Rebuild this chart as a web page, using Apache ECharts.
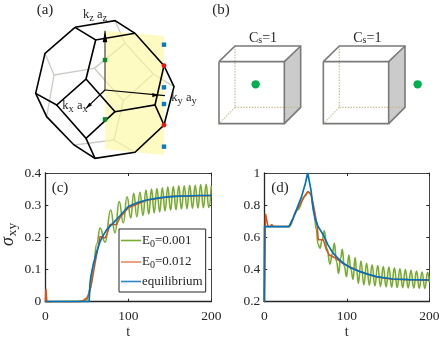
<!DOCTYPE html>
<html><head><meta charset="utf-8">
<style>html,body{margin:0;padding:0;background:#fff}#c{width:443px;height:341px}</style>
<script src="https://cdn.jsdelivr.net/npm/echarts@6/dist/echarts.min.js"></script>
</head><body><div id="c"></div>
<script>
const xTicksInterval = 100;
const seriesNames = ['E0=0.001', 'E0=0.012', 'equilibrium'];

// panel (c)
const cGreenT = [0,45,50,54,58,62,66,72,78.8,84,89,94,98.5,103,106.5,110.3,114,117.7,121.3,124.6,128,131.2,134.5,137.8,141,144.3,147.6,150.9,154.2,157.5,160.8,164,167.4,170.7,174,177.3,180.6,183.9,187.2,190.5,193.8,196.9,200];
const cGreenY = [0,0.001,0.006,0.04,0.11,0.18,0.229,0.185,0.285,0.214,0.311,0.245,0.326,0.26,0.337,0.264,0.34,0.268,0.347,0.272,0.35,0.276,0.352,0.279,0.354,0.282,0.356,0.284,0.358,0.286,0.36,0.288,0.36,0.289,0.362,0.29,0.362,0.291,0.364,0.292,0.365,0.293,0.36];
const cOrangeT = [0,0.8,2,5,8,40,46,50,53,56,60,64,66,72,75,78,86,90,100,122,150,200];
const cOrangeY = [0,0.04,-0.003,-0.003,0,0,0.004,0.012,0.025,0.06,0.12,0.175,0.203,0.198,0.215,0.24,0.24,0.262,0.292,0.315,0.327,0.33];
const cBlueT = [0,52.8,53.8,55,58,62,66,70,74,82,90,100,110,122,135,145,160,173,185,200];
const cBlueY = [0,0,0.055,0.08,0.118,0.155,0.187,0.207,0.224,0.245,0.267,0.296,0.307,0.316,0.322,0.325,0.328,0.329,0.33,0.33];

// panel (d)
const dGreenT = [0,0.3,3,30,40,50,53,56,60,63,65,67.5,70,72.7,76,79.6,82.5,84.9,87.5,90,92.5,94.5,97,99.7,102.4,105,107.6,110,112,114,117.2,120.6,124,127.3,130.7,134,137.5,140.8,144.2,147.6,151,154.3,157.7,161,164.4,167.7,171,174.4,177.8,181.1,184.5,187.8,191.2,194.6,198,200];
const dGreenY = [0.2,0.667,0.667,0.667,0.77,0.86,0.885,0.87,0.77,0.65,0.56,0.532,0.58,0.641,0.53,0.434,0.5,0.563,0.45,0.376,0.47,0.526,0.42,0.355,0.49,0.4,0.338,0.475,0.39,0.314,0.452,0.304,0.439,0.302,0.43,0.298,0.425,0.295,0.418,0.292,0.415,0.29,0.41,0.288,0.405,0.287,0.4,0.286,0.395,0.285,0.39,0.284,0.385,0.283,0.383,0.32];
const dOrangeT = [0,0.8,1.5,3,4.5,7,9,11,30,40,50,53,56.6,60,64,65.5,71.6,75,78.8,85,96,116,136,156,200];
const dOrangeY = [0.2,0.5,0.745,0.74,0.67,0.665,0.68,0.667,0.667,0.775,0.865,0.885,0.867,0.79,0.677,0.585,0.585,0.525,0.49,0.475,0.435,0.388,0.354,0.34,0.333];
const dBlueT = [0,0.3,30,35,40,45,50,52.6,56.6,59.4,61.4,65,71.5,77,83.6,90,95.8,105,116,126,136,156,175,200];
const dBlueY = [0.2,0.667,0.667,0.72,0.785,0.85,0.94,1.0,0.894,0.77,0.718,0.67,0.615,0.555,0.5,0.466,0.439,0.41,0.387,0.37,0.356,0.341,0.337,0.335];

const green = '#77ac30', orange = '#d95319', blue = '#0072bd';
const ink = '#262626', serif = '"Liberation Serif", serif';
const zip = (t, y) => t.map((v, i) => [v, y[i]]);

function axisX(idx, top) {
  return {
    type: 'value', gridIndex: idx, position: top ? 'top' : 'bottom', min: 0, max: 200, interval: xTicksInterval,
    axisLine: { show: true, onZero: false, lineStyle: { color: top ? '#444' : ink, width: top ? 1 : 1.3 } },
    axisTick: { show: true, inside: true, length: 3, lineStyle: { color: ink, width: 1 } },
    splitLine: { show: false },
    axisLabel: { show: !top, margin: 8, color: ink, fontFamily: serif, fontSize: 13.5, hideOverlap: false, showMinLabel: true, showMaxLabel: true },
    name: top ? '' : 't', nameLocation: 'middle', nameGap: 24,
    nameTextStyle: { color: ink, fontFamily: serif, fontSize: 14 }
  };
}
function axisY(idx, right, min, max, interval, name) {
  return {
    type: 'value', gridIndex: idx, position: right ? 'right' : 'left', min, max, interval,
    axisLine: { show: true, onZero: false, lineStyle: { color: right ? '#444' : ink, width: right ? 1 : 1.3 } },
    axisTick: { show: true, inside: true, length: 3, lineStyle: { color: ink, width: 1 } },
    splitLine: { show: false },
    axisLabel: { show: !right, margin: 4, color: ink, fontFamily: serif, fontSize: 13.5, showMinLabel: true, showMaxLabel: true },
    name: name || '', nameLocation: 'middle', nameRotate: 90, nameGap: 26,
    nameTextStyle: { rich: {
      g: { fontFamily: serif, fontStyle: 'italic', fontSize: 18, color: ink, padding: [0, 0, 0, 6] },
      s: { fontFamily: serif, fontSize: 13.5, color: ink, padding: [9, 0, 0, 1] }
    } }
  };
}
function line(name, t, y, idx, color, width) {
  return { name, type: 'line', xAxisIndex: idx, yAxisIndex: idx, data: zip(t, y), showSymbol: false, symbol: 'none',
    lineStyle: { color, width }, itemStyle: { color }, clip: true, silent: true };
}

// schematic drawings (a) and (b)
const gfx = [];
const P = a => a.map(v => v / 3);
function seg(pts, color, w, z, extra) {
  gfx.push({ type: 'polyline', z, silent: true, shape: { points: pts.map(P) }, style: Object.assign({ stroke: color, lineWidth: w, fill: null }, extra || {}) });
}
function poly(pts, fill, z, opacity, stroke) {
  gfx.push({ type: 'polygon', z, silent: true, shape: { points: pts.map(P) }, style: { fill, opacity: opacity == null ? 1 : opacity, stroke: stroke || null, lineWidth: 1 } });
}
function square(x, y, color) {
  gfx.push({ type: 'rect', z: 12, silent: true, shape: { x: x / 3 - 2.2, y: y / 3 - 2.2, width: 4.4, height: 4.4 }, style: { fill: color } });
}
function label(x, y, text, rich, size) {
  gfx.push({ type: 'text', z: 13, silent: true, x, y, style: { text, fill: ink, font: (size || 13) + 'px ' + serif, fontFamily: serif, fontSize: size || 13, align: 'center', verticalAlign: 'middle', rich: rich || undefined } });
}
const subRich = {
  n: { fontFamily: serif, fontSize: 12.5, fill: ink, color: ink },
  s: { fontFamily: serif, fontSize: 10.5, fill: ink, color: ink, padding: [6, 0, 0, 0] }
};

// (a) back edges
[[[345,62],[375,130]],[[375,130],[283,205]],[[375,130],[460,222]],[[283,205],[162,225]],[[162,225],[135,160]],[[162,225],[140,350]],
 [[283,205],[370,302]],[[370,302],[460,222]],[[370,302],[342,420]],[[342,420],[405,457]],[[342,420],[222,435]],[[460,222],[522,260]]]
 .forEach(s => seg(s, '#cfccc6', 1.4, 1));
poly([[315,92],[492,108],[492,465],[315,448]], '#fbf99c', 2, 0.62);
// (a) front edges
[[[225,82],[345,62],[405,100],[492,197],[522,260],[492,375],[405,457],[285,475],[222,435],[140,350],[107,280],[135,160],[225,82]],
 [[225,82],[287,120],[405,100]],[[287,120],[258,237],[170,315],[107,280]],[[170,315],[258,415],[345,335],[258,237]],
 [[258,415],[285,475]],[[345,335],[465,315],[492,375]],[[465,315],[492,197]]]
 .forEach(s => seg(s, '#000', 1.6, 5));
seg([[315,92],[315,270]], '#555', 1.3, 6);
seg([[315,270],[495,287]], '#000', 1.2, 6);
seg([[315,270],[258,325]], '#000', 1.2, 6);
poly([[315,92],[322,127],[308,127]], '#000', 7);
poly([[476,285],[457,279],[457,292]], '#000', 7);
poly([[258,325],[268,308],[276,316]], '#000', 7);
square(315, 180, '#0a8a2a'); square(315, 358, '#0a8a2a');
[[492,134],[492,262],[492,312],[492,440]].forEach(p => square(p[0], p[1], '#0a78c8'));
[[492,197],[492,375]].forEach(p => gfx.push({ type: 'circle', z: 12, silent: true, shape: { cx: p[0]/3, cy: p[1]/3, r: 2.4 }, style: { fill: '#f01010' } }));
label(95, 15, '{n|k}{s|z}{n| a}{s|z}', subRich);
label(184, 98, '{n|k}{s|y}{n| a}{s|y}', subRich);
label(75, 106, '{n|k}{s|x}{n| a}{s|x}', subRich);
label(45, 10, '(a)', null, 15);
label(221, 10, '(b)', null, 15);
label(60, 188, '(c)', null, 15);
label(280, 188, '(d)', null, 15);

// (b) cubes
function cube(dx, dotx) {
  const o = p => [600 + p[0] + dx, p[1]];
  poly([[253,185],[302,138],[302,322],[253,371]].map(o), '#cbcbcb', 2);
  const dots = { stroke: '#c4bc8c', lineWidth: 1.2, lineDash: [1.4, 1.4] };
  [[[105,138],[105,322]],[[105,322],[302,322]],[[105,322],[57,371]]].forEach(s => seg(s.map(o), '#c4bc8c', 1.2, 3, dots));
  const g = '#7a7a7a';
  seg([[57,185],[253,185],[253,371],[57,371],[57,185]].map(o), g, 1.6, 4);
  seg([[57,185],[105,138],[302,138],[302,322],[253,371]].map(o), g, 1.6, 4);
  seg([[253,185],[302,138]].map(o), g, 1.6, 4);
  gfx.push({ type: 'circle', z: 5, silent: true, shape: { cx: (600 + dotx + dx) / 3, cy: 253 / 3, r: 4.2 }, style: { fill: '#00b050' } });
  label((600 + 189 + dx) / 3, 38, '{c|C}{t|s}{c|=1}', {
    c: { fontFamily: serif, fontSize: 14, color: ink },
    t: { fontFamily: serif, fontSize: 10, color: ink, padding: [4, 0, 0, 0] }
  });
}
cube(0, 167);
cube(313, 340);

const option = {
  animation: false,
  backgroundColor: '#fff',
  grid: [
    { left: 45.3, top: 173, width: 166, height: 128.7, outerBoundsMode: 'none' },
    { left: 264.3, top: 173, width: 165, height: 128.7, outerBoundsMode: 'none' }
  ],
  xAxis: [axisX(0), axisX(1), axisX(0, true), axisX(1, true)],
  yAxis: [
    axisY(0, false, 0, 0.4, 0.1, '{g|σ}{s|xy}'), axisY(1, false, 0.2, 1, 0.2),
    axisY(0, true, 0, 0.4, 0.1), axisY(1, true, 0.2, 1, 0.2)
  ],
  legend: {
    left: 119, top: 229, orient: 'vertical', width: 85,
    data: [
      { name: seriesNames[0], itemStyle: { color: green } },
      { name: seriesNames[1], itemStyle: { color: '#e88a62' } },
      { name: seriesNames[2], itemStyle: { color: '#2a88c8' } }
    ],
    icon: 'rect',
    backgroundColor: '#fff', borderColor: ink, borderWidth: 1, borderRadius: 0,
    padding: [3, 3, 4, 2], itemGap: 4.5, itemWidth: 20, itemHeight: 1.6, z: 20, selectedMode: false,
    formatter: n => n.startsWith('E0') ? '{e|E}{s|0}{e|' + n.slice(2) + '}' : '{e|' + n + '}',
    textStyle: { color: ink, fontFamily: serif, padding: [0,0,0,-4], rich: {
      e: { fontFamily: serif, fontSize: 13, color: ink, lineHeight: 18 },
      s: { fontFamily: serif, fontSize: 10, color: ink, padding: [7, 0, 0, 0], lineHeight: 18 }
    } }
  },
  series: [
    line(seriesNames[0], cGreenT, cGreenY, 0, green, 1.6),
    line(seriesNames[1], cOrangeT, cOrangeY, 0, orange, 1.5),
    line(seriesNames[2], cBlueT, cBlueY, 0, blue, 1.7),
    line(seriesNames[0], dGreenT, dGreenY, 1, green, 1.6),
    line(seriesNames[1], dOrangeT, dOrangeY, 1, orange, 1.5),
    line(seriesNames[2], dBlueT, dBlueY, 1, blue, 1.7)
  ],
  graphic: { elements: gfx }
};
option.series.forEach((s, i) => { if (i === 0 || i === 3) { s.smooth = 0.5; s.smoothMonotone = 'x'; } });
const chart = echarts.init(document.getElementById('c'), null, { renderer: 'canvas', width: 443, height: 341 });
chart.setOption(option);
</script></body></html>
